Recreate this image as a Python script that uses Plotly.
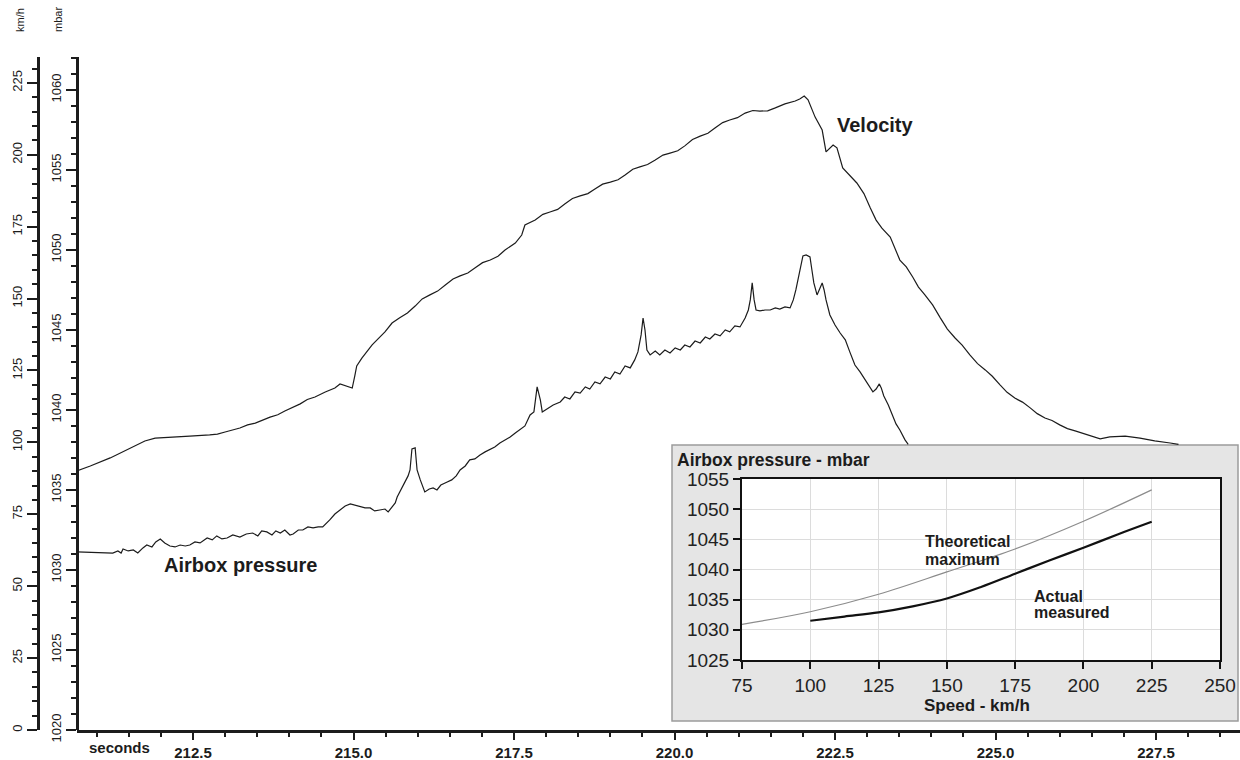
import plotly.graph_objects as go

# ---------------- main chart data ----------------
# Velocity (km/h) vs time (seconds)
vel_t = [210.69, 210.90, 211.21, 211.52, 211.75, 211.91, 212.14, 212.45, 212.76, 212.88,
         213.00, 213.23, 213.35, 213.47, 213.70, 213.82, 213.93, 214.17, 214.28, 214.40,
         214.56, 214.71, 214.79, 214.90, 214.98, 215.02, 215.05, 215.13, 215.29, 215.49,
         215.60, 215.72, 215.84, 215.96, 216.07, 216.19, 216.31, 216.43, 216.55, 216.66,
         216.78, 216.89, 217.01, 217.13, 217.25, 217.36, 217.52, 217.62, 217.67, 217.83,
         217.95, 218.06, 218.18, 218.29, 218.41, 218.53, 218.65, 218.76, 218.88, 219.00,
         219.12, 219.23, 219.35, 219.46, 219.58, 219.70, 219.82, 219.93, 220.05, 220.16,
         220.28, 220.40, 220.52, 220.63, 220.75, 220.86, 220.98, 221.10, 221.22, 221.33,
         221.45, 221.57, 221.72, 221.88, 221.95, 222.02, 222.08, 222.19, 222.30, 222.36,
         222.47, 222.53, 222.62, 222.84, 222.95, 223.05, 223.14, 223.23, 223.36, 223.51,
         223.61, 223.71, 223.80, 223.90, 224.02, 224.14, 224.25, 224.37, 224.48, 224.60,
         224.72, 224.84, 224.95, 225.07, 225.18, 225.30, 225.42, 225.54, 225.65, 225.77,
         225.88, 226.00, 226.12, 226.24, 226.47, 226.63, 226.78, 227.02, 227.25, 227.48,
         227.72, 227.85]
vel_v = [90.1, 91.8, 94.6, 98.1, 100.5, 101.5, 101.9, 102.2, 102.6, 102.9,
         103.6, 105.0, 106.1, 106.7, 108.8, 109.6, 110.9, 113.4, 114.9, 115.8,
         117.5, 118.9, 120.3, 119.6, 118.9, 123.1, 126.6, 129.3, 133.9, 138.4,
         141.5, 143.3, 145.0, 147.4, 149.9, 151.3, 152.6, 154.7, 156.8, 157.9,
         158.9, 160.6, 162.5, 163.4, 164.7, 166.9, 169.3, 172.1, 175.6, 177.3,
         179.3, 180.1, 181.0, 182.9, 184.8, 185.7, 186.5, 188.1, 189.8, 190.5,
         191.3, 193.0, 195.0, 195.8, 196.6, 198.2, 199.9, 200.6, 201.4, 203.1,
         205.3, 206.5, 207.5, 209.3, 211.2, 212.1, 212.9, 214.5, 215.4, 215.2,
         215.3, 216.3, 217.7, 218.7, 219.4, 220.4, 219.1, 213.1, 208.6, 201.0,
         203.4, 202.4, 195.4, 190.2, 186.5, 181.5, 177.3, 174.5, 171.4, 163.4,
         161.0, 157.5, 154.0, 151.3, 147.8, 143.3, 139.4, 136.3, 133.8, 130.4,
         127.4, 125.2, 123.0, 120.0, 117.4, 115.4, 114.0, 112.0, 110.0, 108.5,
         107.6, 106.1, 104.8, 104.0, 102.2, 101.2, 101.9, 102.2, 101.5, 100.5,
         99.8, 99.3]

# Airbox pressure (mbar) vs time (seconds)
pres_t = [210.69, 211.25, 211.33, 211.38, 211.41, 211.49, 211.57, 211.64, 211.72, 211.78,
          211.86, 211.92, 211.99, 212.06, 212.14, 212.22, 212.30, 212.38, 212.45, 212.53,
          212.61, 212.72, 212.80, 212.87, 212.95, 213.03, 213.12, 213.23, 213.33, 213.43,
          213.51, 213.57, 213.65, 213.73, 213.79, 213.86, 213.93, 214.01, 214.06, 214.14,
          214.21, 214.29, 214.37, 214.45, 214.52, 214.59, 214.63, 214.71, 214.79, 214.87,
          214.95, 215.02, 215.10, 215.18, 215.26, 215.33, 215.41, 215.49, 215.54, 215.60,
          215.65, 215.68, 215.74, 215.80, 215.85, 215.88, 215.91, 215.96, 215.99, 216.04,
          216.11, 216.18, 216.24, 216.30, 216.36, 216.46, 216.53, 216.60, 216.66, 216.74,
          216.81, 216.89, 216.97, 217.05, 217.13, 217.20, 217.28, 217.36, 217.44, 217.52,
          217.59, 217.67, 217.75, 217.81, 217.86, 217.91, 217.94, 218.03, 218.11, 218.22,
          218.29, 218.37, 218.45, 218.53, 218.61, 218.68, 218.76, 218.84, 218.92, 219.00,
          219.07, 219.15, 219.23, 219.31, 219.38, 219.43, 219.48, 219.51, 219.54, 219.57,
          219.62, 219.70, 219.77, 219.85, 219.93, 220.01, 220.09, 220.16, 220.24, 220.32,
          220.40, 220.48, 220.55, 220.63, 220.71, 220.79, 220.86, 220.94, 221.02, 221.10,
          221.15, 221.18, 221.21, 221.24, 221.27, 221.33, 221.41, 221.49, 221.57, 221.64,
          221.72, 221.80, 221.85, 221.89, 221.95, 222.00, 222.05, 222.11, 222.14, 222.17,
          222.22, 222.27, 222.30, 222.33, 222.36, 222.42, 222.50, 222.58, 222.66, 222.73,
          222.81, 222.89, 222.97, 223.05, 223.09, 223.14, 223.19, 223.22, 223.26, 223.33,
          223.39, 223.45, 223.51, 223.59, 223.64]
pres_p = [1031.13, 1031.06, 1031.19, 1031.06, 1031.31, 1031.19, 1031.25, 1031.06, 1031.38, 1031.56,
          1031.44, 1031.75, 1031.94, 1031.69, 1031.50, 1031.44, 1031.56, 1031.50, 1031.56, 1031.75,
          1031.69, 1032.00, 1031.88, 1032.13, 1031.94, 1032.00, 1032.19, 1032.06, 1032.25, 1032.31,
          1032.13, 1032.44, 1032.38, 1032.19, 1032.44, 1032.31, 1032.50, 1032.19, 1032.25, 1032.50,
          1032.50, 1032.69, 1032.63, 1032.69, 1032.69, 1032.94, 1033.13, 1033.50, 1033.75, 1034.00,
          1034.13, 1034.06, 1033.94, 1033.88, 1033.88, 1033.69, 1033.75, 1033.81, 1033.63, 1033.94,
          1034.19, 1034.56, 1035.00, 1035.44, 1035.88, 1036.25, 1037.56, 1037.63, 1036.25, 1035.63,
          1034.88, 1035.06, 1035.13, 1035.00, 1035.31, 1035.50, 1035.63, 1035.88, 1036.25, 1036.50,
          1036.88, 1036.94, 1037.19, 1037.38, 1037.56, 1037.69, 1037.94, 1038.13, 1038.31, 1038.56,
          1038.75, 1039.00, 1039.69, 1039.88, 1041.44, 1040.63, 1039.88, 1040.13, 1040.31, 1040.50,
          1040.81, 1040.69, 1041.13, 1041.06, 1041.44, 1041.31, 1041.75, 1041.63, 1042.06, 1041.94,
          1042.38, 1042.25, 1042.75, 1042.63, 1043.13, 1043.63, 1044.69, 1045.75, 1045.00, 1043.75,
          1043.44, 1043.69, 1043.44, 1043.75, 1043.56, 1043.88, 1043.75, 1044.06, 1043.94, 1044.31,
          1044.19, 1044.56, 1044.44, 1044.75, 1044.63, 1045.00, 1044.88, 1045.25, 1045.19, 1045.75,
          1046.25, 1046.88, 1047.94, 1046.88, 1046.25, 1046.19, 1046.25, 1046.25, 1046.38, 1046.31,
          1046.44, 1046.38, 1046.88, 1047.50, 1048.63, 1049.63, 1049.69, 1049.56, 1048.75, 1047.94,
          1047.19, 1047.63, 1047.94, 1047.50, 1046.88, 1045.94, 1045.31, 1044.81, 1044.38, 1043.63,
          1042.81, 1042.38, 1041.88, 1041.38, 1041.13, 1041.31, 1041.63, 1041.38, 1040.88, 1040.31,
          1039.69, 1039.13, 1038.75, 1038.13, 1037.85]

# ---------------- inset data ----------------
speed_theo = [75, 100, 125, 150, 175, 200, 225]
pres_theo = [1030.9, 1033.0, 1035.9, 1039.6, 1043.4, 1048.0, 1053.2]
speed_act = [100, 112.5, 125, 137.5, 150, 162.5, 175, 187.5, 200, 212.5, 225]
pres_act = [1031.5, 1032.2, 1032.9, 1033.9, 1035.2, 1037.1, 1039.3, 1041.5, 1043.6, 1045.8, 1047.9]

W, H = 1240, 760
ML, MT, MB = 38, 57, 30
PW = W - ML
PH = H - MT - MB
FONT = 'Arial, "Liberation Sans", sans-serif'
INK = '#1c1c1c'

def px(x):
    """window pixel x -> paper x"""
    return (x - ML) / PW

def py(y):
    """window pixel y -> paper y"""
    return (H - MB - y) / PH

x0 = px(77)

fig = go.Figure()
fig.add_trace(go.Scatter(x=vel_t, y=vel_v, xaxis='x', yaxis='y2', mode='lines',
                         line=dict(color=INK, width=1.2), hoverinfo='skip', showlegend=False))
fig.add_trace(go.Scatter(x=pres_t, y=pres_p, xaxis='x', yaxis='y', mode='lines',
                         line=dict(color=INK, width=1.2), hoverinfo='skip', showlegend=False))
fig.add_trace(go.Scatter(x=speed_theo, y=pres_theo, xaxis='x2', yaxis='y3', mode='lines',
                         line=dict(color='#8c8c8c', width=1.2, shape='spline'),
                         hoverinfo='skip', showlegend=False))
fig.add_trace(go.Scatter(x=speed_act, y=pres_act, xaxis='x2', yaxis='y3', mode='lines',
                         line=dict(color='#111111', width=2.2, shape='spline'),
                         hoverinfo='skip', showlegend=False))

yax_common = dict(showline=True, linewidth=3, linecolor=INK, ticks='outside', ticklen=10,
                  tickwidth=2, tickcolor=INK, tickangle=-90, showgrid=False, zeroline=False,
                  tickfont=dict(size=13, color=INK, family=FONT), side='left')

def ann(text, x, y, size, bold=False, xanchor='center', **kw):
    f = dict(size=size, color=INK, family=FONT)
    if bold:
        f['weight'] = 'bold'
    d = dict(text=text, x=x, y=y, showarrow=False, font=f, xanchor=xanchor, yanchor='middle')
    d.update(kw)
    return d

fig.update_layout(
    width=W, height=H,
    margin=dict(l=ML, r=0, t=MT, b=MB, autoexpand=False),
    paper_bgcolor='white', plot_bgcolor='white', showlegend=False,
    font=dict(family=FONT, color=INK),
    xaxis=dict(domain=[x0, 1], range=[210.693, 228.808], anchor='y',
               showline=True, linewidth=3, linecolor=INK,
               ticks='outside', ticklen=7, tickwidth=2, tickcolor=INK,
               tick0=212.5, dtick=2.5, tickformat='.1f',
               tickfont=dict(size=15, color=INK, family=FONT, weight='bold'),
               minor=dict(ticks='outside', ticklen=4, tickwidth=1.5, dtick=0.5, tickcolor=INK),
               showgrid=False, zeroline=False),
    yaxis=dict(domain=[0, 1], range=[1020, 1062.06], anchor='free', position=x0,
               tick0=1020, dtick=5,
               minor=dict(ticks='outside', ticklen=5, tickwidth=1.5, dtick=1, tickcolor=INK),
               **yax_common),
    yaxis2=dict(range=[0, 234], overlaying='y', anchor='free', position=0,
                tick0=0, dtick=25,
                minor=dict(ticks='outside', ticklen=5, tickwidth=1.5, dtick=5, tickcolor=INK),
                **yax_common),
    xaxis2=dict(domain=[px(742), px(1220)], anchor='y3', range=[75, 250], dtick=25, tick0=75,
                showline=True, mirror=True, linewidth=2, linecolor='#111',
                ticks='outside', ticklen=7, tickwidth=1.5, tickcolor='#111',
                showgrid=True, gridcolor='#dcdcdc', gridwidth=1, zeroline=False,
                tickfont=dict(size=19, color='#222', family=FONT)),
    yaxis3=dict(domain=[py(660), py(479)], anchor='x2', range=[1025, 1055], dtick=5, tick0=1025,
                showline=True, mirror=True, linewidth=2, linecolor='#111',
                ticks='outside', ticklen=7, tickwidth=1.5, tickcolor='#111',
                showgrid=True, gridcolor='#dcdcdc', gridwidth=1, zeroline=False,
                tickfont=dict(size=19, color='#222', family=FONT)),
    shapes=[
        dict(type='rect', xref='paper', yref='paper', x0=px(672), x1=px(1238), y0=py(721), y1=py(445),
             fillcolor='#e5e5e5', line=dict(color='#9c9c9c', width=1.5), layer='below'),
        dict(type='rect', xref='x2 domain', yref='y3 domain', x0=0, x1=1, y0=0, y1=1,
             fillcolor='white', line=dict(width=0), layer='below'),
    ],
    annotations=[
        ann('km/h', px(20), py(20), 11, xref='paper', yref='paper', textangle=-90),
        ann('mbar', px(58), py(20), 11, xref='paper', yref='paper', textangle=-90),
        ann('seconds', px(119), py(748), 15, bold=True, xref='paper', yref='paper'),
        ann('Velocity', 222.5, 210.4, 20, bold=True, xanchor='left', xref='x', yref='y2'),
        ann('Airbox pressure', 212.02, 1030.31, 20, bold=True, xanchor='left', xref='x', yref='y'),
        ann('Airbox pressure - mbar', px(675), py(460), 17.5, bold=True, xanchor='left',
            xref='paper', yref='paper'),
        ann('Speed - km/h', px(977), py(705), 17, bold=True, xref='paper', yref='paper'),
        ann('Theoretical', 141.4, 1044.6, 16, bold=True, xanchor='left', xref='x2', yref='y3'),
        ann('maximum', 141.4, 1041.7, 16, bold=True, xanchor='left', xref='x2', yref='y3'),
        ann('Actual', 181.1, 1035.6, 16, bold=True, xanchor='left', xref='x2', yref='y3'),
        ann('measured', 181.1, 1032.8, 16, bold=True, xanchor='left', xref='x2', yref='y3'),
    ],
)

# remove the default page margin so the 1240x760 figure fills the window exactly
fig.write_html('out.html', config={'displayModeBar': False},
               post_script="document.body.style.margin='0';document.body.style.overflow='hidden';")
